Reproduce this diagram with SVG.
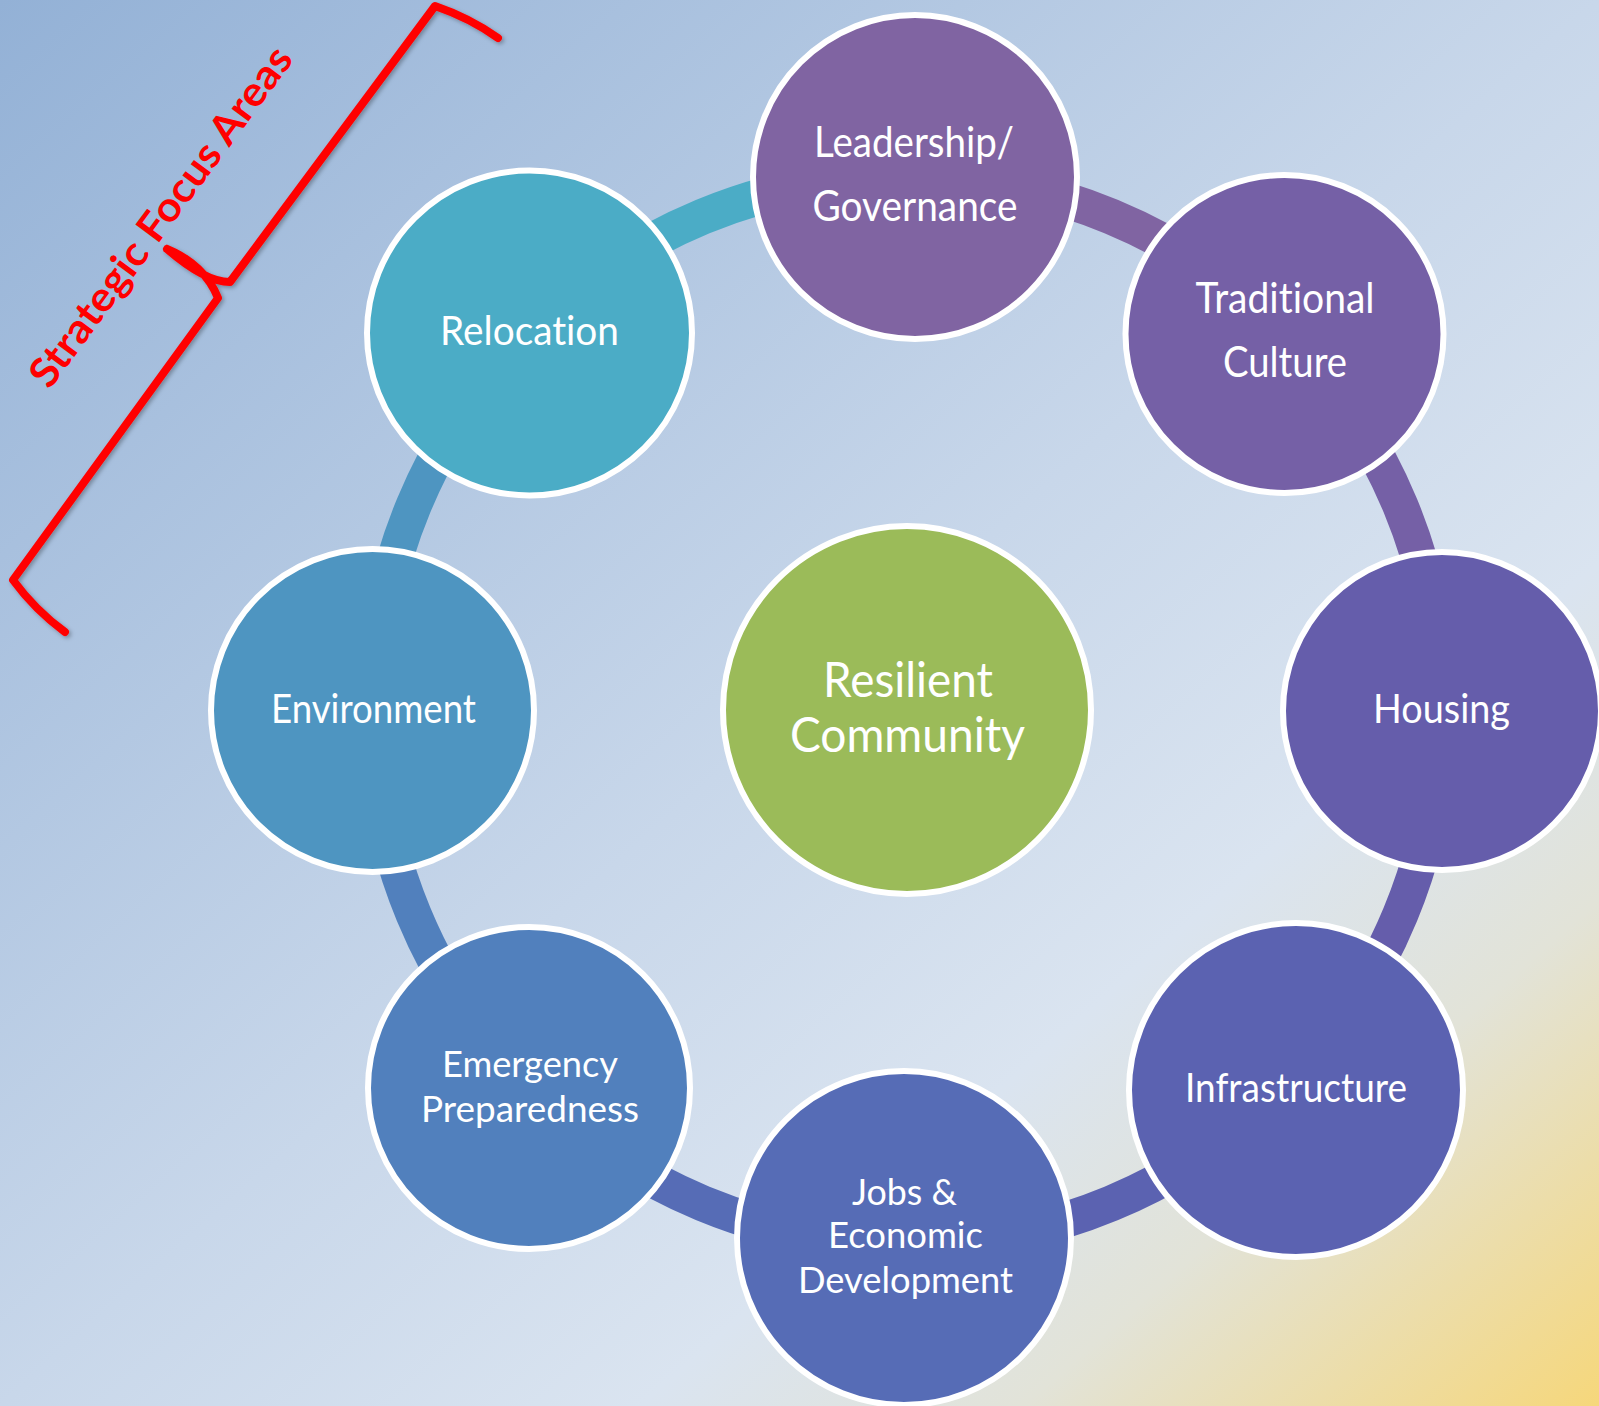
<svg xmlns="http://www.w3.org/2000/svg" width="1599" height="1406" viewBox="0 0 1599 1406">
  <defs>
    <linearGradient id="bg" x1="0" y1="0" x2="1" y2="1">
      <stop offset="0" stop-color="#93B1D6"/>
      <stop offset="0.5" stop-color="#C8D7EA"/>
      <stop offset="0.7" stop-color="#DAE4F0"/>
      <stop offset="0.82" stop-color="#E2E3D8"/>
      <stop offset="1" stop-color="#F6D77B"/>
    </linearGradient>
    <filter id="shadow" x="-10%" y="-10%" width="120%" height="120%">
      <feDropShadow dx="2" dy="2" stdDeviation="2" flood-color="#000" flood-opacity="0.3"/>
    </filter>
    <style>
      .node { stroke: #FFFFFF; stroke-width: 6; }
      .arc { fill: none; stroke-width: 36; }
      .lbl { font-family: Lato, "Liberation Sans", sans-serif; font-weight: 400; fill: #FFFFFF; text-anchor: middle; font-variant-ligatures: none; }
      .brace { fill: none; stroke: #FF0000; stroke-width: 8; stroke-linecap: round; stroke-linejoin: round; }
    </style>
  </defs>

  <rect x="0" y="0" width="1599" height="1406" fill="url(#bg)"/>

  <g id="connectors">
    <path class="arc" stroke="#8064A2" d="M907,176 A534,534 0 0 1 1284.6,332.4"/>
    <path class="arc" stroke="#7560A6" d="M1284.6,332.4 A534,534 0 0 1 1441,710"/>
    <path class="arc" stroke="#655DAB" d="M1441,710 A534,534 0 0 1 1284.6,1087.6"/>
    <path class="arc" stroke="#5B62B1" d="M1284.6,1087.6 A534,534 0 0 1 907,1244"/>
    <path class="arc" stroke="#566CB6" d="M907,1244 A534,534 0 0 1 529.4,1087.6"/>
    <path class="arc" stroke="#5180BD" d="M529.4,1087.6 A534,534 0 0 1 373,710"/>
    <path class="arc" stroke="#4E95C1" d="M373,710 A534,534 0 0 1 529.4,332.4"/>
    <path class="arc" stroke="#4BACC6" d="M529.4,332.4 A534,534 0 0 1 907,176"/>
  </g>

  <g id="node-center">
    <circle class="node" cx="907" cy="710" r="184" fill="#9BBB59"/>
    <text class="lbl" x="908" y="697" font-size="48" textLength="170" lengthAdjust="spacingAndGlyphs">Resilient</text>
    <text class="lbl" x="907.5" y="752" font-size="48" textLength="235" lengthAdjust="spacingAndGlyphs">Community</text>
  </g>

  <g id="node-leadership">
    <circle class="node" cx="915" cy="177" r="162" fill="#8064A2"/>
    <text class="lbl" x="914" y="157" font-size="42" textLength="200" lengthAdjust="spacingAndGlyphs">Leadership/</text>
    <text class="lbl" x="915" y="221" font-size="42" textLength="205" lengthAdjust="spacingAndGlyphs">Governance</text>
  </g>

  <g id="node-traditional">
    <circle class="node" cx="1284.5" cy="334" r="159" fill="#7560A6"/>
    <text class="lbl" x="1285" y="313" font-size="42" textLength="179" lengthAdjust="spacingAndGlyphs">Traditional</text>
    <text class="lbl" x="1285" y="377" font-size="42" textLength="124" lengthAdjust="spacingAndGlyphs">Culture</text>
  </g>

  <g id="node-housing">
    <circle class="node" cx="1442" cy="711" r="159" fill="#655DAB"/>
    <text class="lbl" x="1441.5" y="723" font-size="41" textLength="137" lengthAdjust="spacingAndGlyphs">Housing</text>
  </g>

  <g id="node-infrastructure">
    <circle class="node" cx="1296" cy="1090" r="167" fill="#5B62B1"/>
    <text class="lbl" x="1296" y="1102" font-size="41" textLength="222" lengthAdjust="spacingAndGlyphs">Infrastructure</text>
  </g>

  <g id="node-jobs">
    <circle class="node" cx="904" cy="1238" r="167" fill="#566CB6"/>
    <text class="lbl" x="904.5" y="1205" font-size="36" textLength="105" lengthAdjust="spacingAndGlyphs">Jobs &amp;</text>
    <text class="lbl" x="905.5" y="1248" font-size="36" textLength="155" lengthAdjust="spacingAndGlyphs">Economic</text>
    <text class="lbl" x="905.5" y="1293" font-size="36" textLength="215" lengthAdjust="spacingAndGlyphs">Development</text>
  </g>

  <g id="node-emergency">
    <circle class="node" cx="529" cy="1088" r="161" fill="#5180BD"/>
    <text class="lbl" x="530" y="1077" font-size="36" textLength="176" lengthAdjust="spacingAndGlyphs">Emergency</text>
    <text class="lbl" x="530" y="1122" font-size="36" textLength="218" lengthAdjust="spacingAndGlyphs">Preparedness</text>
  </g>

  <g id="node-environment">
    <circle class="node" cx="372.5" cy="710.5" r="161.5" fill="#4E95C1"/>
    <text class="lbl" x="373.5" y="723" font-size="41" textLength="205" lengthAdjust="spacingAndGlyphs">Environment</text>
  </g>

  <g id="node-relocation">
    <circle class="node" cx="529.5" cy="333" r="162.5" fill="#4BACC6"/>
    <text class="lbl" x="529.5" y="345" font-size="40" textLength="179" lengthAdjust="spacingAndGlyphs">Relocation</text>
  </g>

  <g id="bracket">
    <path class="brace" filter="url(#shadow)" d="M498,38 Q470,18 435,6 L230,282 Q205,282 167,249 M167,249 Q205,265 218,298 L13,580 Q35,610 65,632"/>
    <text x="172" y="225" transform="rotate(-53.5 172 225)" font-family="Lato, 'Liberation Sans', sans-serif" font-weight="bold" font-size="41" fill="#FF0000" text-anchor="middle" textLength="412" lengthAdjust="spacingAndGlyphs">Strategic Focus Areas</text>
  </g>
</svg>
